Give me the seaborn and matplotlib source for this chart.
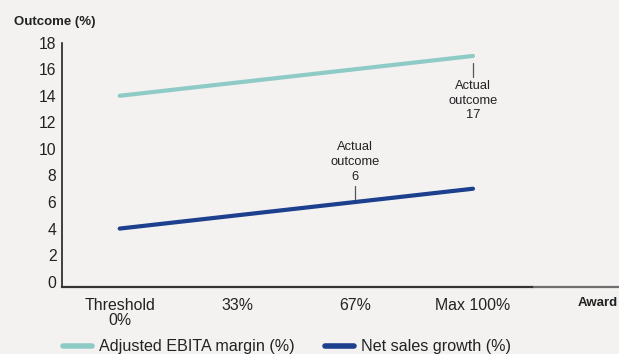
import matplotlib
matplotlib.use("Agg")
import matplotlib.pyplot as plt
import seaborn as sns
import pandas as pd
from matplotlib.lines import Line2D

categories = ["Threshold\n0%", "33%", "67%", "Max 100%"]
ebita_margin = [14, 15, 16, 17]
net_sales_growth = [4, 5, 6, 7]
y_ticks = [0, 2, 4, 6, 8, 10, 12, 14, 16, 18]

BG = "#f3f2f1"
TEAL = "#8fcbc6"
NAVY = "#1c3f8e"
TXT = "#222222"

sns.set_theme(style="white")
plt.rcParams["font.family"] = ["Liberation Sans", "DejaVu Sans"]

df = pd.DataFrame({
    "pos": list(range(len(categories))) * 2,
    "value": ebita_margin + net_sales_growth,
    "series": ["Adjusted EBITA margin (%)"] * 4 + ["Net sales growth (%)"] * 4,
})

fig = plt.figure(figsize=(6.19, 3.54), dpi=100, facecolor=BG)
ax = fig.add_axes([62 / 619, 1 - 287 / 354, (619 - 62) / 619, (287 - 40) / 354])
ax.set_facecolor(BG)

sns.lineplot(data=df, x="pos", y="value", hue="series",
             palette=[TEAL, NAVY], linewidth=3.0, ax=ax, legend=False,
             solid_capstyle="round")

ax.set_xlim(-0.49, 4.24)
ax.set_ylim(-0.4, 18.2)
ax.set_yticks(y_ticks)
ax.set_yticklabels([str(v) for v in y_ticks], fontsize=11.3, color=TXT)
ax.set_xticks(range(len(categories)))
ax.set_xticklabels(categories, fontsize=11.4, color=TXT, linespacing=0.95)
ax.tick_params(axis="both", length=0, pad=4)
ax.tick_params(axis="x", pad=8)
ax.set_xlabel("")
ax.set_ylabel("")

for s in ["top", "right"]:
    ax.spines[s].set_visible(False)
ax.spines["left"].set_color(TXT)
ax.spines["left"].set_linewidth(1.2)
ax.spines["left"].set_bounds(-0.4, 18)
ax.spines["bottom"].set_color("#333333")
ax.spines["bottom"].set_linewidth(1.6)
ax.spines["bottom"].set_bounds(-0.49, 3.5)
ax.plot([3.5, 4.24], [-0.4, -0.4], color="#6e6e6e", lw=1.6, clip_on=False,
        solid_capstyle="butt")

# annotations
ax.plot([3, 3], [15.45, 16.45], color="#555555", lw=0.9)
ax.text(3, 15.2, "Actual\noutcome\n17", ha="center", va="top",
        fontsize=9.3, color=TXT, linespacing=1.3)
ax.plot([2, 2], [6.25, 7.2], color="#555555", lw=0.9)
ax.text(2, 7.45, "Actual\noutcome\n6", ha="center", va="bottom",
        fontsize=9.3, color=TXT, linespacing=1.3)

fig.text(14 / 619, 1 - 22 / 354, "Outcome (%)", fontsize=9.5,
         fontweight="bold", color=TXT, va="center", ha="left")
fig.text(618 / 619, 1 - 303 / 354, "Award", fontsize=9.5,
         fontweight="bold", color=TXT, va="center", ha="right")

# legend
handles = [Line2D([0], [0], color=TEAL, lw=4, solid_capstyle="round"),
           Line2D([0], [0], color=NAVY, lw=4, solid_capstyle="round")]
fig.legend(handles, ["Adjusted EBITA margin (%)", "Net sales growth (%)"],
           loc="center left", bbox_to_anchor=(48 / 619, 1 - 347 / 354),
           ncol=2, frameon=False, fontsize=11.6, handlelength=1.85,
           handletextpad=0.42, columnspacing=1.85, labelcolor=TXT)

fig.savefig("out.png", dpi=100, facecolor=BG)
